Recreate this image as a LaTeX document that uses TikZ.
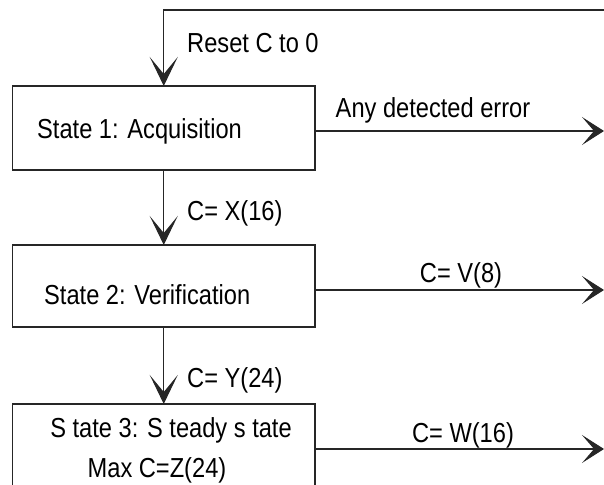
\documentclass[tikz,border=0pt]{standalone}
\usepackage{fontspec}
\setmainfont[FakeStretch=0.86]{Liberation Sans}
\usetikzlibrary{arrows.meta}
\tikzset{
  statebox/.style={draw=black!85, line width=1.1pt, minimum width=302.5pt, inner sep=0pt, outer sep=0pt},
  lbl/.style={font=\fontsize{27.5}{29}\selectfont, inner sep=0pt},
  vflow/.style={draw=black!85, line width=1.1pt, -{Stealth[length=29pt,width=28pt,inset=17pt]}},
  hflow/.style={draw=black!85, line width=1.1pt, -{Stealth[length=22pt,width=28pt,inset=12pt]}},
}
\begin{document}
\begin{tikzpicture}[x=1pt,y=-1pt]
\useasboundingbox (0,0) rectangle (604,484);
\clip (0,0) rectangle (604,484);
% boxes
\node[statebox, minimum height=84pt] (b1) at (163.75,128) {};
\node[statebox, minimum height=82pt] (b2) at (163.75,286) {};
\node[statebox, minimum height=120pt] (b3) at (163.75,464) {};
% box texts
\node[lbl, anchor=west] (t1) at (37,131) {State 1: Acquisition};
\node[lbl, anchor=west] (t2) at (44,295) {State 2: Verification};
\node[lbl] (t3a) at (171,430) {S tate 3: S teady s tate};
\node[lbl] (t3b) at (157,470) {Max C=Z(24)};
% free ends
\coordinate (top) at (604,10);
\coordinate (e1) at (604,131);
\coordinate (e2) at (604,290);
\coordinate (e3) at (604,449);
% connectors
\draw[vflow] (top) -| (b1.north);
\draw[vflow] (b1.south) -- (b2.north);
\draw[vflow] (b2.south) -- (b3.north);
\draw[hflow] (e1 -| b1.east) -- (e1);
\draw[hflow] (e2 -| b2.east) -- (e2);
\draw[hflow] (e3 -| b3.east) -- (e3);
% connector labels
\node[lbl, anchor=west] (l0) at (187,43) {Reset C to 0};
\node[lbl, anchor=west] (l1) at (187,213) {C= X(16)};
\node[lbl, anchor=west] (l2) at (187,380) {C= Y(24)};
\node[lbl] (la) at (433,110) {Any detected error};
\node[lbl] (lb) at (461,275) {C= V(8)};
\node[lbl] (lc) at (463,435) {C= W(16)};
\end{tikzpicture}
\end{document}
